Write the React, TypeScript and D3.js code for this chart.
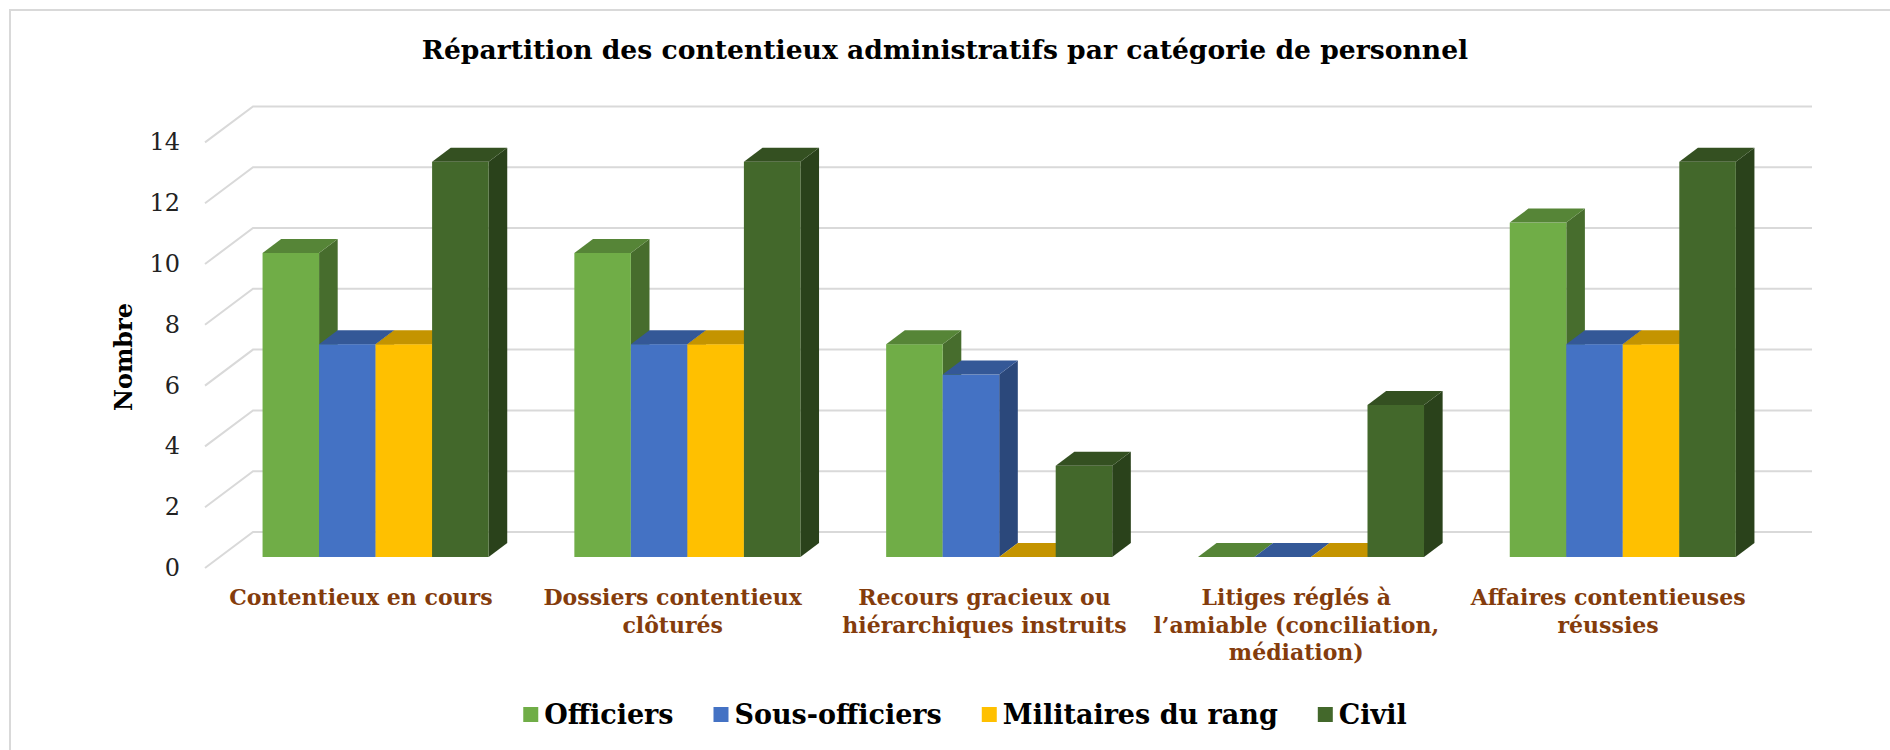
import React from "react";
import * as d3 from "d3";

const categories = [
  "Contentieux en cours",
  "Dossiers contentieux\nclôturés",
  "Recours gracieux ou\nhiérarchiques instruits",
  "Litiges réglés à\nl’amiable (conciliation,\nmédiation)",
  "Affaires contentieuses\nréussies",
];
const seriesNames = ["Officiers", "Sous-officiers", "Militaires du rang", "Civil"];
const officiers = [10, 10, 7, 0, 11];
const sousOfficiers = [7, 7, 6, 0, 7];
const militaires = [7, 7, 0, 0, 7];
const civil = [13, 13, 3, 5, 13];
const seriesColors = ["#70AD47", "#4472C4", "#FFC000", "#43682B"];
const yTicks = [0, 2, 4, 6, 8, 10, 12, 14];

const title = "Répartition des contentieux administratifs par catégorie de personnel";
const yTitle = "Nombre";

const W = 1890;
const H = 750;
const FONT = "'DejaVu Serif', 'Liberation Serif', serif";

// 3d floor: front edge and depth vector
const floorLeft = 205;
const floorRight = 1764;
const baseY = 568;
const depthX = 48;
const depthY = -36;
const frontT = 0.306;
const backT = 0.694;

const shade = (c: string, k: number) => {
  const r = d3.rgb(c);
  return d3.rgb(r.r * k, r.g * k, r.b * k).formatHex();
};

const measure = (() => {
  const ctx = document.createElement("canvas").getContext("2d")!;
  return (t: string, font: string) => {
    ctx.font = font;
    return ctx.measureText(t).width;
  };
})();

const App = () => {
  const values = [officiers, sousOfficiers, militaires, civil];
  const y = d3.scaleLinear().domain([0, 14]).range([baseY, baseY - 14 * 30.4]);
  const x = d3.scaleBand<string>().domain(categories).range([floorLeft, floorRight]);
  const bw = x.bandwidth();
  const groupW = bw * 0.725;
  const inner = d3.scaleBand<string>().domain(seriesNames).range([0, groupW]);
  const barW = inner.bandwidth();
  const fdx = depthX * frontT;
  const fdy = depthY * frontT;
  const ddx = depthX * (backT - frontT);
  const ddy = depthY * (backT - frontT);

  // legend layout
  const legendFont = `bold 27px ${FONT}`;
  const sq = 15;
  const gapText = 6;
  const gapItem = 40;
  const widths = seriesNames.map((s) => measure(s, legendFont));
  const totalW =
    d3.sum(widths) + seriesNames.length * (sq + gapText) + gapItem * (seriesNames.length - 1);
  let lx = 965 - totalW / 2;
  const legendItems = seriesNames.map((s, i) => {
    const item = { name: s, x: lx, color: seriesColors[i] };
    lx += sq + gapText + widths[i] + gapItem;
    return item;
  });
  const legendY = 714.5;

  return (
    <svg
      width={W}
      height={H}
      style={{ position: "absolute", left: 0, top: 0, background: "#fff" }}
      fontFamily={FONT}
    >
      <rect x={10} y={10} width={W + 20} height={H + 20} fill="#fff" stroke="#d9d9d9" strokeWidth={2} />
      <text x={945} y={59} textAnchor="middle" fontWeight="bold" fontSize={26.6} fill="#000">
        {title}
      </text>

      {/* gridlines */}
      {yTicks.map((t) => (
        <polyline
          key={t}
          points={`${floorLeft},${y(t)} ${floorLeft + depthX},${y(t) + depthY} ${floorRight + depthX},${y(t) + depthY}`}
          fill="none"
          stroke="#d9d9d9"
          strokeWidth={2}
        />
      ))}
      {yTicks.map((t) => (
        <text key={t} x={180} y={y(t)} textAnchor="end" dominantBaseline="central" fontSize={24} fill="#222">
          {t}
        </text>
      ))}
      <text
        transform={`translate(123,357) rotate(-90)`}
        textAnchor="middle"
        dominantBaseline="central"
        fontWeight="bold"
        fontSize={24}
        fill="#000"
      >
        {yTitle}
      </text>

      {/* bars */}
      {categories.map((c, ci) => (
        <g key={c}>
          {seriesNames.map((s, si) => {
            const v = values[si][ci];
            const col = seriesColors[si];
            const x0 = x(c)! + (bw - groupW) / 2 + inner(s)! + fdx;
            const x1 = x0 + barW;
            const yb = y(0) + fdy;
            const yt = y(v) + fdy;
            return (
              <g key={s}>
                <polygon
                  points={`${x1},${yt} ${x1 + ddx},${yt + ddy} ${x1 + ddx},${yb + ddy} ${x1},${yb}`}
                  fill={shade(col, 0.63)}
                />
                <rect x={x0} y={yt} width={barW} height={yb - yt} fill={col} />
                <polygon
                  points={`${x0},${yt} ${x1},${yt} ${x1 + ddx},${yt + ddy} ${x0 + ddx},${yt + ddy}`}
                  fill={shade(col, 0.77)}
                />
              </g>
            );
          })}
        </g>
      ))}

      {/* category labels */}
      {categories.map((c) => (
        <text
          key={c}
          x={x(c)! + bw / 2}
          y={605}
          textAnchor="middle"
          fontWeight="bold"
          fontSize={22}
          fill="#843C0C"
        >
          {c.split("\n").map((line, li) => (
            <tspan key={li} x={x(c)! + bw / 2} dy={li === 0 ? 0 : 27.5}>
              {line}
            </tspan>
          ))}
        </text>
      ))}

      {/* legend */}
      {legendItems.map((it) => (
        <g key={it.name}>
          <rect x={it.x} y={legendY - sq / 2} width={sq} height={sq} fill={it.color} />
          <text
            x={it.x + sq + gapText}
            y={legendY}
            dominantBaseline="central"
            fontWeight="bold"
            fontSize={27}
            fill="#000"
          >
            {it.name}
          </text>
        </g>
      ))}
    </svg>
  );
};

export default App;
